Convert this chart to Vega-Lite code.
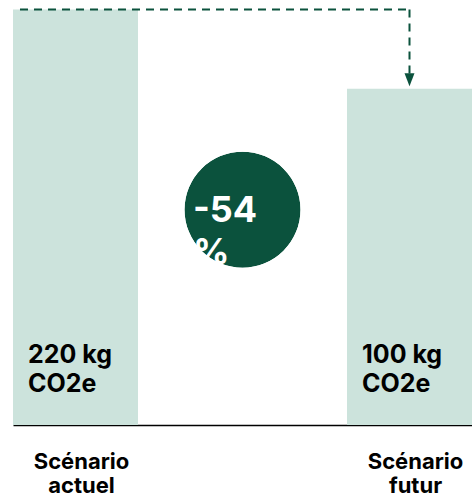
{
  "$schema": "https://vega.github.io/schema/vega-lite/v6.json",
  "width": 459,
  "height": 425,
  "autosize": {"type": "none"},
  "padding": {"left": 13, "top": 0, "right": 0, "bottom": 72},
  "background": "white",
  "config": {"view": {"stroke": null}, "font": "Inter"},
  "datasets": {
    "barres": [
      {"categorie": "Scénario actuel", "hauteur": 220, "etiquette": "220 kg\nCO2e"},
      {"categorie": "Scénario futur", "hauteur": 178, "etiquette": "100 kg\nCO2e"}
    ],
    "cercle": [
      {"categorie": "écart", "reduction": "-54 %"}
    ],
    "fleche": [
      {"de": "Scénario actuel", "vers": "Scénario futur", "haut": 220, "bas": 178}
    ]
  },
  "layer": [
    {
      "data": {"name": "barres"},
      "mark": {"type": "bar", "color": "#cce3dc"},
      "encoding": {
        "x": {
          "field": "categorie",
          "type": "nominal",
          "sort": null,
          "title": null,
          "scale": {"domain": ["Scénario actuel", "écart", "Scénario futur"], "paddingInner": 0.2515, "paddingOuter": 0},
          "axis": {
            "title": null,
            "labelExpr": "datum.value == 'écart' ? '' : split(datum.value, ' ')",
            "labelAngle": 0,
            "labelFont": "Inter",
            "labelFontSize": 22,
            "labelFontWeight": "bold",
            "labelColor": "#000000",
            "labelLineHeight": 24,
            "labelBaseline": "top",
            "labelPadding": 26,
            "labelOffset": 6,
            "labelOverlap": false,
            "labelBound": false,
            "ticks": false,
            "domainColor": "#000000",
            "domainWidth": 1.5,
            "grid": false
          }
        },
        "y": {
          "field": "hauteur",
          "type": "quantitative",
          "scale": {"domain": [0, 225], "nice": false},
          "axis": null
        }
      }
    },
    {
      "data": {"name": "barres"},
      "mark": {"type": "text", "align": "left", "baseline": "alphabetic", "dx": 15, "dy": -62, "fontSize": 25, "fontWeight": "bold", "font": "Inter", "lineHeight": 29, "lineBreak": "\n", "color": "#000000"},
      "encoding": {
        "x": {"field": "categorie", "type": "nominal", "bandPosition": 0, "title": null},
        "y": {"datum": 0, "type": "quantitative", "axis": null},
        "text": {"field": "etiquette"}
      }
    },
    {
      "data": {"name": "fleche"},
      "mark": {"type": "rule", "color": "#0b523d", "strokeWidth": 2, "strokeDash": [8, 6]},
      "encoding": {
        "x": {"field": "de", "type": "nominal", "bandPosition": 0.056, "title": null},
        "x2": {"field": "vers", "bandPosition": 0.5},
        "y": {"field": "haut", "type": "quantitative", "axis": null}
      }
    },
    {
      "data": {"name": "fleche"},
      "mark": {"type": "rule", "color": "#0b523d", "strokeWidth": 2, "strokeDash": [8, 6], "y2Offset": -10},
      "encoding": {
        "x": {"field": "vers", "type": "nominal", "title": null},
        "y": {"field": "haut", "type": "quantitative", "axis": null},
        "y2": {"field": "bas"}
      }
    },
    {
      "data": {"name": "fleche"},
      "mark": {"type": "point", "shape": "M-1,-1.3L1,-1.3L0,1.3Z", "size": 100, "filled": true, "color": "#0b523d", "opacity": 1, "yOffset": -9},
      "encoding": {
        "x": {"field": "vers", "type": "nominal", "title": null},
        "y": {"field": "bas", "type": "quantitative", "axis": null}
      }
    },
    {
      "data": {"name": "cercle"},
      "mark": {"type": "point", "shape": "circle", "size": 13456, "filled": true, "color": "#0b523d", "opacity": 1},
      "encoding": {
        "x": {"field": "categorie", "type": "nominal", "title": null},
        "y": {"datum": 114, "type": "quantitative", "axis": null}
      }
    },
    {
      "data": {"name": "cercle"},
      "mark": {"type": "text", "align": "left", "baseline": "alphabetic", "dx": 13, "dy": 12, "fontSize": 36, "fontWeight": "bold", "font": "Inter", "lineHeight": 42, "lineBreak": " ", "color": "#ffffff"},
      "encoding": {
        "x": {"field": "categorie", "type": "nominal", "bandPosition": 0, "title": null},
        "y": {"datum": 114, "type": "quantitative", "axis": null},
        "text": {"field": "reduction"}
      }
    },
    {
      "data": {"name": "cercle"},
      "mark": {"type": "arc", "radius": 58, "radius2": 95, "theta": 0, "theta2": 6.2832, "fill": "#ffffff"},
      "encoding": {
        "x": {"field": "categorie", "type": "nominal", "title": null},
        "y": {"datum": 114, "type": "quantitative", "axis": null}
      }
    }
  ]
}
